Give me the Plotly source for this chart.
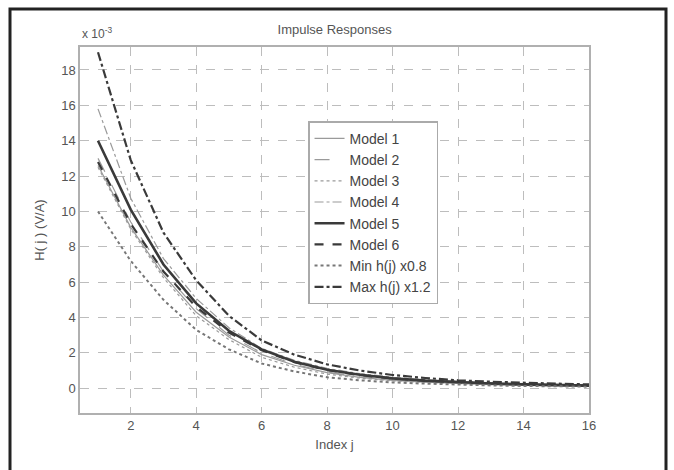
import plotly.graph_objects as go

j = list(range(1, 17))

model1 = [12.6, 9.1, 6.4, 4.3, 2.9, 1.9, 1.3, 0.88, 0.62, 0.45, 0.34, 0.26, 0.20, 0.16, 0.13, 0.11]
model2 = [13.0, 9.4, 6.6, 4.5, 3.0, 2.0, 1.35, 0.92, 0.65, 0.48, 0.36, 0.28, 0.22, 0.17, 0.14, 0.12]
model3 = [12.5, 9.0, 6.25, 4.1, 2.75, 1.75, 1.19, 0.80, 0.57, 0.42, 0.33, 0.25, 0.20, 0.16, 0.14, 0.11]
model4 = [15.8, 10.75, 7.33, 5.08, 3.42, 2.25, 1.58, 1.12, 0.83, 0.62, 0.48, 0.375, 0.31, 0.25, 0.22, 0.18]
model5 = [14.0, 10.1, 7.0, 4.8, 3.25, 2.2, 1.5, 1.05, 0.76, 0.56, 0.43, 0.33, 0.27, 0.22, 0.18, 0.15]
model6 = [12.8, 9.3, 6.6, 4.6, 3.15, 2.15, 1.48, 1.03, 0.74, 0.55, 0.42, 0.33, 0.27, 0.22, 0.18, 0.15]
min_h = [10.0, 7.2, 5.0, 3.3, 2.2, 1.4, 0.95, 0.62, 0.45, 0.33, 0.26, 0.20, 0.16, 0.13, 0.11, 0.09]
max_h = [19.0, 12.9, 8.8, 6.1, 4.1, 2.7, 1.9, 1.35, 1.0, 0.75, 0.58, 0.45, 0.37, 0.30, 0.26, 0.22]

names = ["Model 1", "Model 2", "Model 3", "Model 4", "Model 5", "Model 6",
         "Min h(j) x0.8", "Max h(j) x1.2"]
series = [model1, model2, model3, model4, model5, model6, min_h, max_h]
styles = [
    ("#9a9a9a", 1.2, "solid"),
    ("#9a9a9a", 1.2, "longdash"),
    ("#9a9a9a", 1.2, "dot"),
    ("#9a9a9a", 1.2, "dashdot"),
    ("#3a3a3a", 2.6, "solid"),
    ("#3a3a3a", 2.2, "dash"),
    ("#777777", 2.0, "dot"),
    ("#3a3a3a", 2.2, "dashdot"),
]

fig = go.Figure()
for name, ys, (c, w, d) in zip(names, series, styles):
    fig.add_trace(go.Scatter(x=j, y=ys, mode="lines", name=name,
                             line=dict(color=c, width=w, dash=d)))

axis_common = dict(
    showline=True, linecolor="#b0b0b0", linewidth=1.5, mirror=True,
    showgrid=True, gridcolor="#bdbdbd", gridwidth=1, griddash="dash",
    zeroline=False, ticks="", tickfont=dict(family="Arial, Liberation Sans", size=13, color="#555555"),
)

fig.update_layout(
    width=674, height=470,
    margin=dict(l=80, r=85, t=47, b=57),
    paper_bgcolor="white", plot_bgcolor="white",
    font=dict(family="Arial, Liberation Sans", color="#555555"),
    title=dict(text="Impulse Responses", x=0.4965, xanchor="center", y=0.938, yanchor="middle",
               font=dict(size=13, color="#555555")),
    xaxis=dict(range=[0.45, 16], tickvals=[2, 4, 6, 8, 10, 12, 14, 16],
               title=dict(text="Index j", font=dict(size=13, color="#555555"), standoff=8),
               **axis_common),
    yaxis=dict(range=[-1.4, 19.3], tickvals=[0, 2, 4, 6, 8, 10, 12, 14, 16, 18],
               title=dict(text="H( j ) (V/A)", font=dict(size=13, color="#555555"), standoff=14),
               **axis_common),
    legend=dict(x=0.448, y=0.797, xanchor="left", yanchor="top",
                bgcolor="white", bordercolor="#aaaaaa", borderwidth=1.5,
                font=dict(size=14, color="#444444"), tracegroupgap=0),
    showlegend=True,
)

fig.add_annotation(text="x 10<sup>-3</sup>", xref="paper", yref="paper",
                   x=0.0, y=1.0, xanchor="left", yanchor="bottom", yshift=4,
                   showarrow=False, font=dict(size=12, color="#555555"))

# outer frame
fig.add_shape(type="rect", xref="paper", yref="paper",
              x0=-70/509, x1=(666-80)/509, y0=-(480-413)/366, y1=(413-9)/366,
              line=dict(color="#222222", width=3), fillcolor="rgba(0,0,0,0)", layer="above")

fig.write_html("out.html")
